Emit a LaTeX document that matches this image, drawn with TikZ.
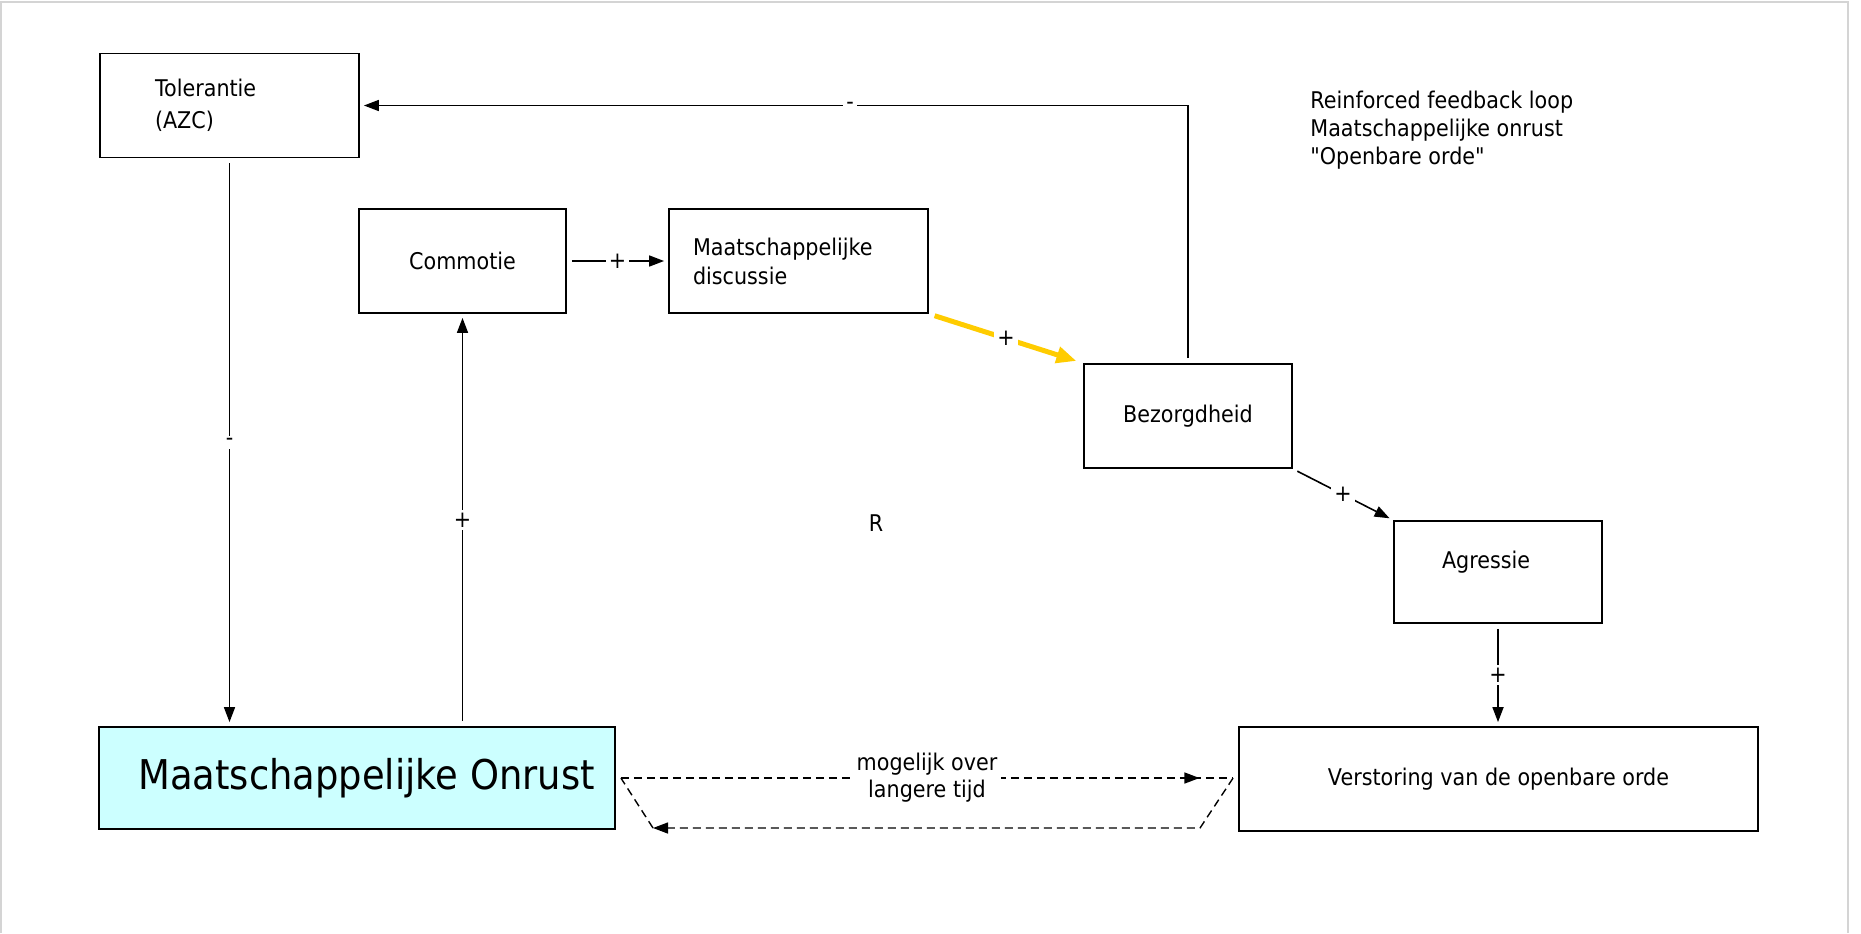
\documentclass[tikz,border=0pt]{standalone}
\usepackage{fontspec}
\setmainfont{DejaVu Sans}[FakeStretch=0.9, Ligatures=TeXOff]
\usepackage{tikz}
\usetikzlibrary{arrows.meta}
\usetikzlibrary{calc}
\usetikzlibrary{decorations.markings}
\definecolor{loopyellow}{RGB}{255,204,0}
\definecolor{onrustblue}{RGB}{204,255,255}
\definecolor{framegray}{RGB}{212,212,212}

\tikzset{
  factor/.style={draw, line width=0.9pt, minimum height=52pt, inner sep=2pt, font=\fontsize{11.5pt}{14pt}\selectfont},
  link/.style={line width=0.8pt, -{Triangle[length=7.5pt,width=5.5pt]}, shorten >=2pt, shorten <=2.5pt},
  sign/.style={fill=white, inner sep=1.5pt, font=\fontsize{11.5pt}{14pt}\selectfont},
  later/.style={line width=0.7pt, dash pattern=on 4pt off 2.5pt},
}

\begin{document}
\begin{tikzpicture}[x=0.5pt,y=-0.5pt]
\useasboundingbox (0,0) rectangle (1861,933);
\draw[framegray, line width=0.8pt] (1,933) -- (1,2) -- (1848,2) -- (1848,933);

% factoren
\node[factor, minimum width=129.5pt, text width=74.5pt, inner xsep=27.5pt, align=left, font=\fontsize{11.5pt}{16pt}\selectfont] (tol) at (229.5,105.5) {Tolerantie\\(AZC)};
\node[factor, minimum width=103.5pt] (com) at (462.5,261) {Commotie};
\node[factor, minimum width=129.5pt, text width=105.5pt, inner xsep=12pt, align=left, font=\fontsize{11.5pt}{14.5pt}\selectfont] (md) at (798.5,261) {Maatschappelijke\\discussie};
\node[factor, minimum width=104pt] (bez) at (1188,416) {Bezorgdheid};
\node[factor, minimum width=104pt, minimum height=51pt, text width=56pt, inner xsep=24pt, align=left, text depth=12pt] (agr) at (1498,572) {Agressie};
\node[factor, minimum width=259.5pt] (ver) at (1498.5,779) {Verstoring van de openbare orde};
\node[factor, fill=onrustblue, minimum width=258pt, minimum height=51pt, font=\fontsize{20.5pt}{23pt}\selectfont] (mo) at (357,778) {\hspace*{9.5pt}Maatschappelijke Onrust};

\node[anchor=west, inner sep=0pt, align=left, font=\fontsize{11.5pt}{14pt}\selectfont] (loop) at (1310,130) {Reinforced feedback loop\\Maatschappelijke onrust\\"Openbare orde"};
\node[font=\fontsize{11.5pt}{14pt}\selectfont] (r) at (876,523) {R};

% verbindingen
\draw[link] (tol.south) -- (tol.south |- mo.north) node[sign, midway] {-};
\draw[link] (com.south |- mo.north) -- (com.south) node[sign, midway] {+};
\draw[link] (com) -- (md) node[sign, midway] {+};
\draw[loopyellow, line width=2.5pt, -{Triangle[length=10pt,width=8pt]}, shorten <=3pt, shorten >=3.5pt] (md.south east) -- (bez.north west) node[sign, midway, text=black] {+};
\draw[link] (bez.south east) -- (agr.north west) node[sign, midway] {+};
\draw[link] (agr.south) -- (agr.south |- ver.north) node[sign, midway] {+};
\draw[link] (bez.north) |- (tol.east) node[sign, pos=0.704] {-};

% op langere termijn
\coordinate (d1) at ([xshift=2.5pt]mo.east);
\coordinate (d2) at ($(d1 -| ver.west)+(-5,0)$);
\coordinate (d3) at (1200,828);
\coordinate (d4) at (653,828);
\draw[later, postaction={decorate}, decoration={markings, mark=at position 0.945 with {\arrow{Triangle[length=7.5pt,width=5.5pt]}}}] (d1) -- (d2) node[midway, fill=white, inner sep=2pt, align=center, font=\fontsize{11.5pt}{13.5pt}\selectfont] (tijd) {mogelijk over\\langere tijd};
\draw[later, -{Triangle[length=7.5pt,width=5.5pt]}] (d2) -- (d3) -- (d4);
\draw[later] (d4) -- (d1);
\end{tikzpicture}
\end{document}
